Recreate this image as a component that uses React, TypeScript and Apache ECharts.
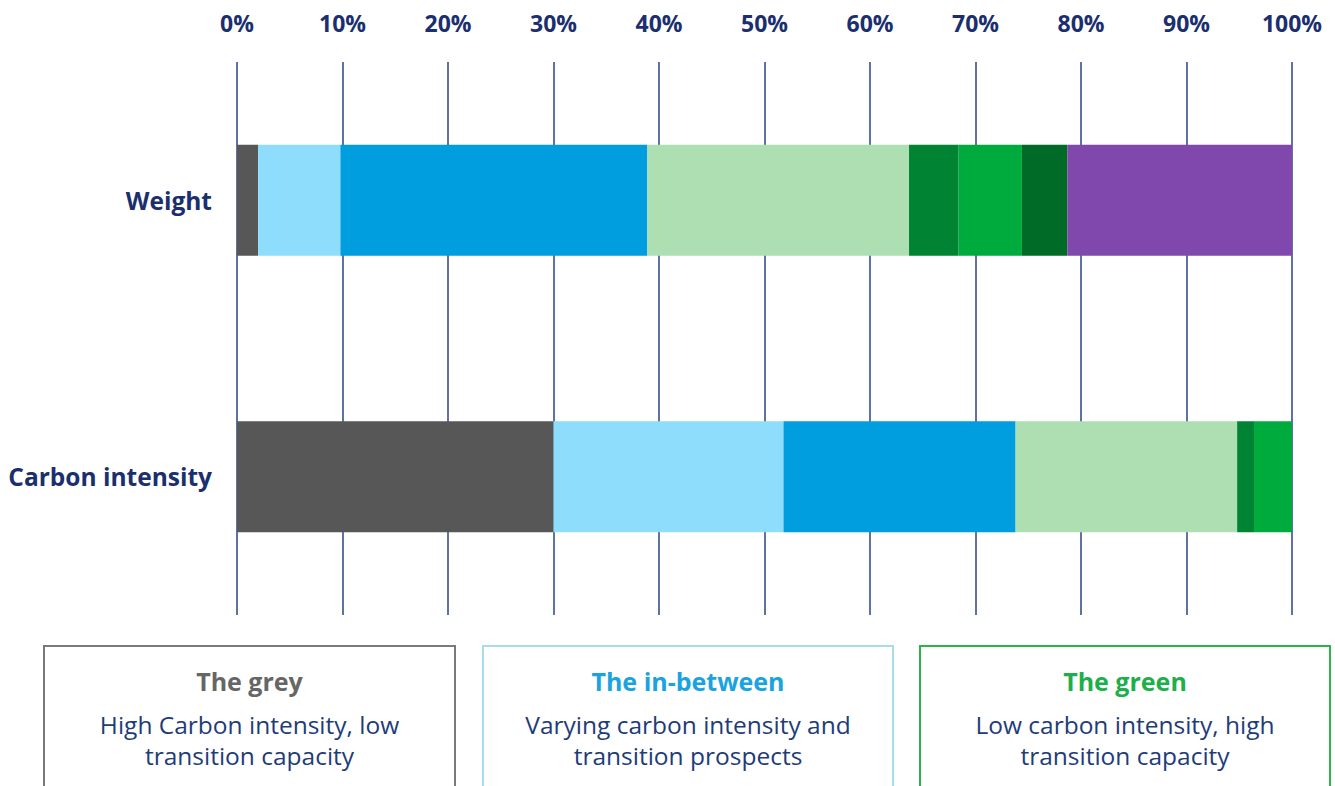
import React, { useEffect, useRef } from "react";
import * as echarts from "echarts";

const categories = ["Weight", "Carbon intensity"];
const tickLabels = ["0%", "10%", "20%", "30%", "40%", "50%", "60%", "70%", "80%", "90%", "100%"];

// values in % for [Weight, Carbon intensity]
const segmentNames = ["Grey", "In-between light", "In-between", "In-between green", "Green 1", "Green 2", "Green 3", "Other"];
const greyValues = [2.0, 30.0];
const lightBlueValues = [7.8, 21.8];
const blueValues = [29.1, 22.0];
const lightGreenValues = [24.8, 21.0];
const darkGreenValues = [4.7, 1.6];
const greenValues = [6.0, 3.6];
const darkestGreenValues = [4.3, 0];
const purpleValues = [21.3, 0];

const segmentValues = [
  greyValues,
  lightBlueValues,
  blueValues,
  lightGreenValues,
  darkGreenValues,
  greenValues,
  darkestGreenValues,
  purpleValues,
];
const segmentColors = ["#575757", "#8FDDFD", "#009DDF", "#AEDFB3", "#008332", "#00AB3E", "#006A27", "#8047AD"];

const boxTitles = ["The grey", "The in-between", "The green"];
const boxLine1 = ["High Carbon intensity, low", "Varying carbon intensity and", "Low carbon intensity, high"];
const boxLine2 = ["transition capacity", "transition prospects", "transition capacity"];

const NAVY = "#1B2F6E";
const FONT = "'Open Sans', 'Noto Sans', sans-serif";

export default function App() {
  const ref = useRef<HTMLDivElement>(null);

  useEffect(() => {
    if (!ref.current) return;
    const chart = echarts.init(ref.current, null, { renderer: "svg" });

    const boxes = [
      { x: 44, w: 411, border: "#7A7A7A", titleColor: "#666666" },
      { x: 483, w: 410, border: "#A9DDEA", titleColor: "#1AA3DF" },
      { x: 920, w: 410, border: "#2DB34A", titleColor: "#1DAF4A" },
    ];
    const graphics: any[] = [];
    boxes.forEach((b, i) => {
      const cx = b.x + b.w / 2;
      graphics.push({
        type: "rect",
        shape: { x: b.x, y: 646, width: b.w, height: 200 },
        style: { fill: "none", stroke: b.border, lineWidth: 2 },
        silent: true,
      });
      graphics.push({
        type: "text",
        x: cx,
        y: 681,
        style: {
          text: boxTitles[i],
          fill: b.titleColor,
          font: `bold 25px ${FONT}`,
          textAlign: "center",
          textVerticalAlign: "middle",
        },
      });
      graphics.push({
        type: "text",
        x: cx,
        y: 724,
        style: {
          text: boxLine1[i],
          fill: "#1E3C78",
          font: `24.5px ${FONT}`,
          textAlign: "center",
          textVerticalAlign: "middle",
        },
      });
      graphics.push({
        type: "text",
        x: cx,
        y: 755,
        style: {
          text: boxLine2[i],
          fill: "#1E3C78",
          font: `24.5px ${FONT}`,
          textAlign: "center",
          textVerticalAlign: "middle",
        },
      });
    });

    chart.setOption({
      animation: false,
      backgroundColor: "#ffffff",
      grid: { left: 237, right: 43, top: 62, bottom: 171, containLabel: false },
      xAxis: {
        type: "value",
        position: "top",
        min: 0,
        max: 100,
        interval: 10,
        axisLine: { show: false },
        axisTick: { show: false },
        splitLine: { show: true, lineStyle: { color: "#2A4585", width: 1.5 } },
        axisLabel: {
          margin: 28,
          color: NAVY,
          fontWeight: "bold",
          fontSize: 23,
          fontFamily: FONT,
          formatter: (v: number) => tickLabels[Math.round(v / 10)],
        },
      },
      yAxis: {
        type: "category",
        data: categories,
        inverse: true,
        axisLine: { show: false },
        axisTick: { show: false },
        axisLabel: {
          margin: 25,
          color: NAVY,
          fontWeight: "bold",
          fontSize: 24.5,
          fontFamily: FONT,
        },
      },
      series: segmentValues.map((vals, i) => ({
        name: segmentNames[i],
        type: "bar",
        stack: "total",
        barWidth: 111,
        data: vals,
        itemStyle: { color: segmentColors[i] },
        silent: true,
      })),
      graphic: graphics,
    });

    return () => chart.dispose();
  }, []);

  return (
    <div
      ref={ref}
      style={{ position: "fixed", left: 0, top: 0, width: 1335, height: 786 }}
    />
  );
}
